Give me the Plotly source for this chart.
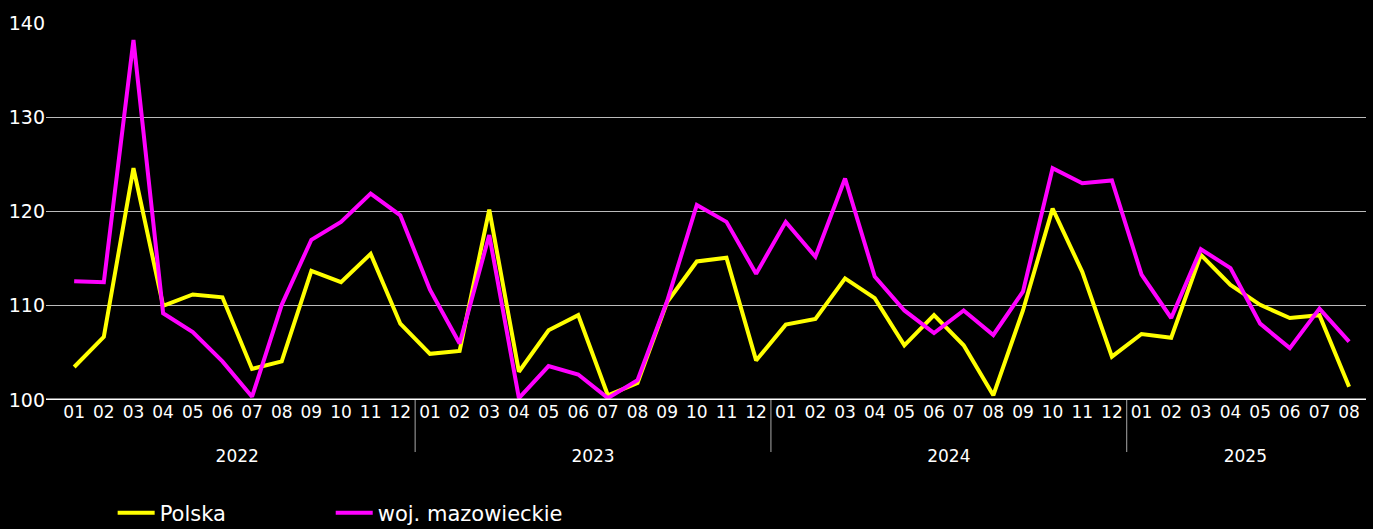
import plotly.graph_objects as go

years = ["2022"] * 12 + ["2023"] * 12 + ["2024"] * 12 + ["2025"] * 8
months = [f"{m:02d}" for m in range(1, 13)] * 3 + [f"{m:02d}" for m in range(1, 9)]

polska = [
    103.5, 106.7, 124.6, 110.0, 111.2, 110.9, 103.3, 104.1, 113.7, 112.5, 115.5, 108.1,
    104.9, 105.2, 120.2, 103.0, 107.4, 109.0, 100.5, 101.8, 110.4, 114.7, 115.1, 104.2,
    108.0, 108.6, 112.9, 110.8, 105.8, 109.0, 105.8, 100.5, 109.5, 120.3, 113.6, 104.6,
    107.0, 106.6, 115.4, 112.2, 110.1, 108.7, 109.0, 101.4,
]
mazowieckie = [
    112.6, 112.5, 138.2, 109.2, 107.2, 104.1, 100.35, 110.1, 117.0, 118.9, 121.9, 119.6,
    111.7, 106.0, 117.5, 100.2, 103.6, 102.7, 100.2, 102.1, 110.5, 120.7, 118.9, 113.4,
    118.9, 115.2, 123.5, 113.1, 109.5, 107.1, 109.5, 106.9, 111.5, 124.6, 123.0, 123.3,
    113.3, 108.7, 116.0, 114.0, 108.1, 105.5, 109.7, 106.2,
]
y_ticks = [100, 110, 120, 130, 140]

FONT = "DejaVu Sans, sans-serif"

# year labels pushed one line lower (layout only)
year_labels = ["<br>" + y for y in years]

fig = go.Figure()
fig.add_trace(go.Scatter(x=[year_labels, months], y=polska, name="Polska", mode="lines",
                         line=dict(color="#FFFF00", width=4), legend="legend"))
fig.add_trace(go.Scatter(x=[year_labels, months], y=mazowieckie, name="woj. mazowieckie", mode="lines",
                         line=dict(color="#FF00FF", width=4), legend="legend2"))

legend_common = dict(orientation="h", xanchor="left", yref="container", y=0.03, yanchor="middle",
                     font=dict(size=21, color="#FFFFFF"), itemwidth=37,
                     bgcolor="rgba(0,0,0,0)")

fig.update_layout(
    width=1373, height=529,
    paper_bgcolor="#000000", plot_bgcolor="#000000",
    margin=dict(l=46, r=7, t=23, b=129, autoexpand=False),
    font=dict(family=FONT, color="#FFFFFF", size=17),
    showlegend=True,
    legend=dict(x=0.0505, **legend_common),
    legend2=dict(x=0.2157, **legend_common),
    xaxis=dict(type="multicategory", showgrid=False, showline=False, zeroline=False,
               tickfont=dict(size=17, color="#FFFFFF"), ticks="", tickangle=0,
               showdividers=False,
               range=[-0.95, 43.57]),
    yaxis=dict(range=[100, 140], tickvals=y_ticks, showgrid=True, gridcolor="#BBBBBB",
               gridwidth=1, zeroline=False, showline=False, ticks="",
               tickfont=dict(size=19, color="#FFFFFF")),
)

# year dividers only between groups (positions derived from the category index)
boundaries = [i - 0.5 for i in range(1, len(years)) if years[i] != years[i - 1]]
for b in boundaries:
    fig.add_shape(type="line", xref="x", yref="paper", x0=b, x1=b, y0=0, y1=-0.138,
                  line=dict(color="#AAAAAA", width=1), layer="above")

fig.add_hline(y=100, line=dict(color="#FFFFFF", width=3))

fig.write_html("out.html", config={"displayModeBar": False})

with open("out.html", "r", encoding="utf-8") as f:
    html = f.read()
html = html.replace("<head>", "<head><style>html,body{margin:0;padding:0;background:#000;overflow:hidden;}</style>", 1)
with open("out.html", "w", encoding="utf-8") as f:
    f.write(html)
